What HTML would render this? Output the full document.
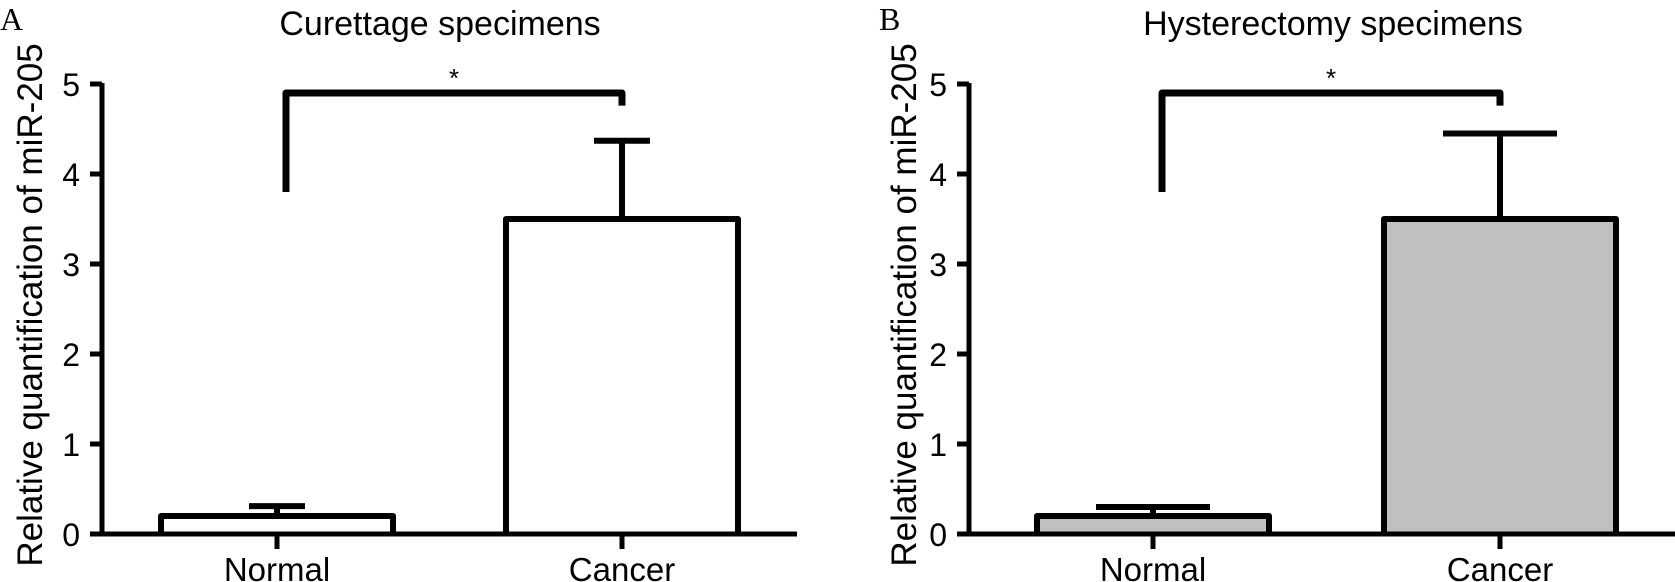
<!DOCTYPE html>
<html><head><meta charset="utf-8"><style>
html,body{margin:0;padding:0;background:#fff;}
svg{display:block;}
text{font-family:"Liberation Sans",Arial,sans-serif;fill:#000;}
.serif{font-family:"Liberation Serif","Times New Roman",serif;}
</style></head><body>
<svg id="chart" width="1675" height="582" viewBox="0 0 1675 582" xmlns="http://www.w3.org/2000/svg">
<text class="serif" x="0" y="30" font-size="32">A</text>
<text class="serif" x="879" y="30" font-size="32">B</text>
</svg>
<script>
const categories = ["Normal", "Cancer"];
const curettageMeans = [0.2, 3.5];
const curettageErrors = [0.31, 4.37];
const hysterectomyMeans = [0.2, 3.5];
const hysterectomyErrors = [0.3, 4.45];
const yTicks = [0, 1, 2, 3, 4, 5];
const bracketLeftEnd = [3.8, 3.8];
const bracketTop = [4.9, 4.9];
const bracketRightEnd = [4.76, 4.76];

const NS = "http://www.w3.org/2000/svg";
const svg = document.getElementById("chart");
function mk(tag, attrs, parent) {
  const e = document.createElementNS(NS, tag);
  for (const k in attrs) e.setAttribute(k, attrs[k]);
  (parent || svg).appendChild(e);
  return e;
}

const panels = [
  {key:"a", title:"Curettage specimens", titleX:440, axisX:102, axisEnd:797, centers:[277,622], barHalf:116, capHalf:28, fill:"#ffffff", bracketOffset:9, ytitleX:42, means:curettageMeans, errs:curettageErrors, idx:0},
  {key:"b", title:"Hysterectomy specimens", titleX:1333, axisX:969, axisEnd:1675, centers:[1153,1500], barHalf:116, capHalf:57, fill:"#c0c0c0", bracketOffset:9, ytitleX:916, means:hysterectomyMeans, errs:hysterectomyErrors, idx:1}
];

const y0 = 534, yUnit = 90;
function yScale(v) { return y0 - v * yUnit; }

panels.forEach(p => {
  const g = mk("g", {});
  
  

  const t = mk("text", {x:p.titleX, y:35, "font-size":34, "text-anchor":"middle"}, g);
  t.textContent = p.title;
  
  

  const yt = mk("text", {x:0, y:0, "font-size":35, "text-anchor":"middle", transform:"translate(" + p.ytitleX + ",305) rotate(-90)"}, g);
  yt.textContent = "Relative quantification of miR-205";
  
  

  p.means.forEach((m, i) => {
    const cx = p.centers[i];
    const bar = mk("path", {d:"M" + (cx - p.barHalf) + " " + y0 + " V" + yScale(m) + " H" + (cx + p.barHalf) + " V" + y0, fill:p.fill, stroke:"#000", "stroke-width":6, "stroke-linejoin":"round"}, g);
    
    
    const eb = mk("path", {d:"M" + cx + " " + yScale(m) + " V" + yScale(p.errs[i]) + " M" + (cx - p.capHalf) + " " + yScale(p.errs[i]) + " H" + (cx + p.capHalf), stroke:"#000", "stroke-width":6, fill:"none"}, g);
    
    
  });

  const ya = mk("line", {x1:p.axisX, y1:83, x2:p.axisX, y2:y0 + 2.5, stroke:"#000", "stroke-width":5}, g);
  
  
  const xa = mk("line", {x1:p.axisX - 12, y1:y0, x2:p.axisEnd, y2:y0, stroke:"#000", "stroke-width":5}, g);
  
  

  yTicks.forEach(v => {
    const tk = mk("line", {x1:p.axisX - 12, y1:yScale(v), x2:p.axisX, y2:yScale(v), stroke:"#000", "stroke-width":5}, g);
    
    
    const tl = mk("text", {x:p.axisX - 22, y:yScale(v) + 12, "font-size":32, "text-anchor":"end"}, g);
    tl.textContent = v;
    
    
  });

  categories.forEach((c, i) => {
    const cx = p.centers[i];
    const tk = mk("line", {x1:cx, y1:y0, x2:cx, y2:y0 + 15, stroke:"#000", "stroke-width":5}, g);
    
    
    const tl = mk("text", {x:cx, y:581, "font-size":33, "text-anchor":"middle"}, g);
    tl.textContent = c;
    
    
  });

  const bl = p.centers[0] + p.bracketOffset, br = p.centers[1];
  const k = p.idx;
  const brk = mk("path", {d:"M" + bl + " " + yScale(bracketLeftEnd[k]) + " V" + yScale(bracketTop[k]) + " H" + br + " V" + yScale(bracketRightEnd[k]), stroke:"#000", "stroke-width":7, fill:"none", "stroke-linejoin":"round"}, g);
  
  
  const st = mk("text", {x:(bl + br) / 2, y:yScale(bracketTop[k]) - 6, "font-size":26, "text-anchor":"middle"}, g);
  st.textContent = "*";
  
  
});
</script>
</body></html>
